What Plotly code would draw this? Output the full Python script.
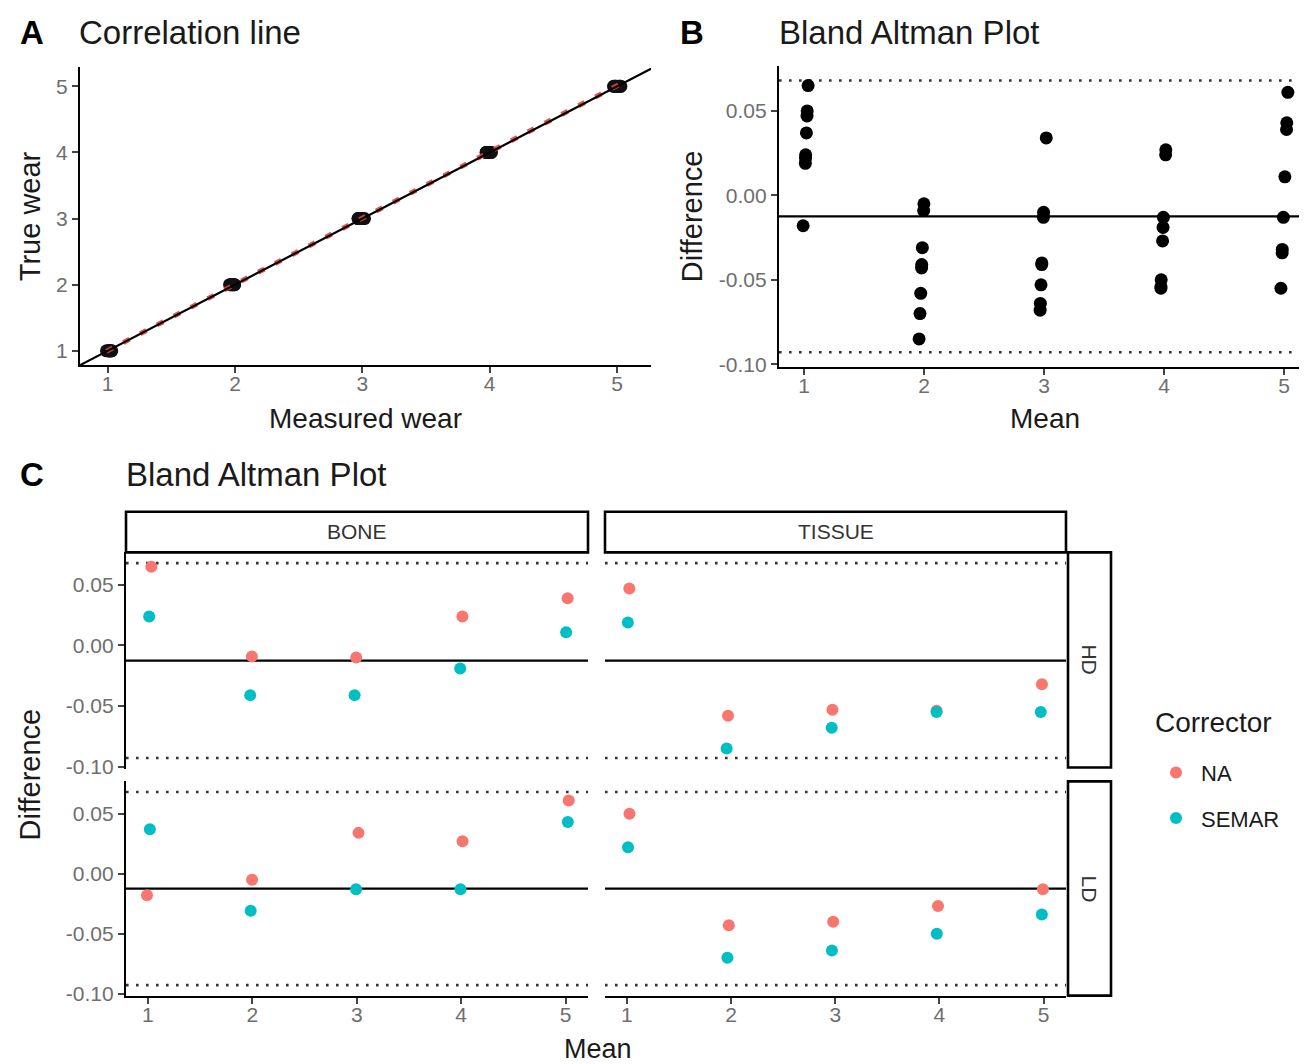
import numpy as np
import plotly.graph_objects as go

W, H = 1307, 1064
FONT = "Liberation Sans, Arial, Helvetica, sans-serif"

# ---------------- data ----------------
true_wear = [1, 2, 3, 4, 5]
# Difference (measured - true) per facet and corrector, at true wear 1..5
bone_hd_na = [0.065, -0.009, -0.010, 0.024, 0.039]
bone_hd_semar = [0.024, -0.041, -0.041, -0.019, 0.011]
tissue_hd_na = [0.047, -0.058, -0.053, -0.054, -0.032]
tissue_hd_semar = [0.019, -0.085, -0.068, -0.055, -0.055]
bone_ld_na = [-0.018, -0.005, 0.034, 0.027, 0.061]
bone_ld_semar = [0.037, -0.031, -0.013, -0.013, 0.043]
tissue_ld_na = [0.050, -0.043, -0.040, -0.027, -0.013]
tissue_ld_semar = [0.022, -0.070, -0.064, -0.050, -0.034]

diff_ticks = [-0.10, -0.05, 0.00, 0.05]
diff_ticktext = ["-0.10", "-0.05", "0.00", "0.05"]
wear_ticks = [1, 2, 3, 4, 5]

NA_COL = "#F8766D"
SEMAR_COL = "#00BFC4"

facets = {
    # name: (xaxis, yaxis, na, semar)
    "BONE_HD": ("x3", "y3", bone_hd_na, bone_hd_semar),
    "TISSUE_HD": ("x4", "y4", tissue_hd_na, tissue_hd_semar),
    "BONE_LD": ("x5", "y5", bone_ld_na, bone_ld_semar),
    "TISSUE_LD": ("x6", "y6", tissue_ld_na, tissue_ld_semar),
}

tw = np.array(true_wear, dtype=float)
all_diff = []
all_mean = []
all_true = []
for key, (_, _, na, se) in facets.items():
    for arr in (na, se):
        d = np.array(arr)
        all_diff.extend(d.tolist())
        all_mean.extend((tw + d / 2).tolist())
        all_true.extend(tw.tolist())
all_diff = np.array(all_diff)
all_mean = np.array(all_mean)
all_true = np.array(all_true)

bias = all_diff.mean()
sd = all_diff.std(ddof=1)
loa_hi = bias + 1.96 * sd
loa_lo = bias - 1.96 * sd


def fx(px):
    return px / W


def fy(py):
    return 1 - py / H


fig = go.Figure()

# ---------------- Panel A ----------------
fig.add_trace(go.Scatter(x=all_mean, y=all_true, mode="markers",
                         marker=dict(color="#111", size=13),
                         xaxis="x", yaxis="y", showlegend=False))
coef = np.polyfit(all_mean, all_true, 1)
xr = np.array([all_mean.min(), all_mean.max()])
fig.add_trace(go.Scatter(x=xr, y=np.polyval(coef, xr), mode="lines",
                         line=dict(color="#E0453C", width=5, dash="7px,12px"),
                         opacity=0.9,
                         xaxis="x", yaxis="y", showlegend=False))
AX_RANGE_X = [0.783, 5.267]
AY_RANGE = [0.786, 5.285]
fig.add_trace(go.Scatter(x=[0.7, 5.4], y=[0.7, 5.4], mode="lines",
                         line=dict(color="black", width=2.2),
                         xaxis="x", yaxis="y", showlegend=False))

# ---------------- Panel B ----------------
fig.add_trace(go.Scatter(x=all_mean, y=all_diff, mode="markers",
                         marker=dict(color="black", size=13),
                         xaxis="x2", yaxis="y2", showlegend=False))

# ---------------- Panel C ----------------
for key, (xa, ya, na, se) in facets.items():
    first = key == "BONE_HD"
    fig.add_trace(go.Scatter(x=tw + np.array(na) / 2, y=na, mode="markers",
                             marker=dict(color=NA_COL, size=12),
                             xaxis=xa, yaxis=ya, name="NA", legendgroup="NA",
                             showlegend=first))
    fig.add_trace(go.Scatter(x=tw + np.array(se) / 2, y=se, mode="markers",
                             marker=dict(color=SEMAR_COL, size=12),
                             xaxis=xa, yaxis=ya, name="SEMAR", legendgroup="SEMAR",
                             showlegend=first))

# reference lines for B and C
shapes = []
for xa, ya in [("x2", "y2"), ("x3", "y3"), ("x4", "y4"), ("x5", "y5"), ("x6", "y6")]:
    shapes.append(dict(type="line", xref=f"{xa} domain", yref=ya, x0=0, x1=1,
                       y0=bias, y1=bias, line=dict(color="black", width=2.2), layer="below"))
    for v in (loa_hi, loa_lo):
        shapes.append(dict(type="line", xref=f"{xa} domain", yref=ya, x0=0, x1=1,
                           y0=v, y1=v, line=dict(color="#333", width=2.6, dash="2.6px,7.4px"),
                           layer="below"))

# strips
strip_line = dict(color="black", width=2.6)
for (x0, x1, y0, y1) in [(118, 580, 508, 549), (597, 1058, 508, 549),
                         (1060, 1103, 549, 766), (1060, 1103, 780, 996)]:
    shapes.append(dict(type="rect", xref="paper", yref="paper",
                       x0=fx(x0), x1=fx(x1), y0=fy(y1), y1=fy(y0),
                       line=strip_line, fillcolor="white"))

annotations = []


def ann(text, x, y, size, color="#1a1a1a", angle=0, xanchor="center", bold=False):
    annotations.append(dict(text=f"<b>{text}</b>" if bold else text,
                            x=fx(x), y=fy(y), xref="paper", yref="paper",
                            showarrow=False, textangle=angle, xanchor=xanchor,
                            yanchor="middle", font=dict(family=FONT, size=size, color=color)))


# titles
ann("A", 10, 25, 33, "black", xanchor="left", bold=True)
ann("Correlation line", 69, 25, 33, xanchor="left")
ann("B", 670, 25, 33, "black", xanchor="left", bold=True)
ann("Bland Altman Plot", 769, 25, 33, xanchor="left")
ann("C", 10, 470, 33, "black", xanchor="left", bold=True)
ann("Bland Altman Plot", 116, 470, 33, xanchor="left")
# axis titles
ann("True wear", 22, 210, 29, angle=-90)
ann("Measured wear", 357, 414, 28)
ann("Difference", 684, 210, 29, angle=-90)
ann("Mean", 1037, 414, 28)
ann("Difference", 22, 773, 29, angle=-90)
ann("Mean", 590, 1050, 27)
# strip labels
ann("BONE", 349, 528, 21, "#333")
ann("TISSUE", 828, 528, 21, "#333")
ann("HD", 1082, 657, 21, "#333", angle=90)
ann("LD", 1082, 888, 21, "#333", angle=90)
# legend title
ann("Corrector", 1145, 721, 28, xanchor="left")

tickfont = dict(family=FONT, size=21, color="#6e6e6e")


def axis(domain, rng, show=True, line=True, tickvals=None, ticktext=None, anchor=None,
         standoff=0):
    d = dict(domain=domain, range=rng, showgrid=False, zeroline=False,
             showline=line, linecolor="black", linewidth=2.4,
             ticks="outside" if show else "", ticklen=6, tickwidth=2, tickcolor="#444",
             showticklabels=show, tickfont=tickfont, tickvals=tickvals, fixedrange=True,
             ticklabelstandoff=standoff)
    if ticktext is not None:
        d["ticktext"] = ticktext
    if anchor:
        d["anchor"] = anchor
    return d


DIFF_RANGE = [-0.1016, 0.0769]
CX_RANGE = [0.79, 5.215]
XSO = -7

layout = dict(
    width=W, height=H, margin=dict(l=0, r=0, t=0, b=0),
    paper_bgcolor="white", plot_bgcolor="rgba(0,0,0,0)",
    font=dict(family=FONT),
    shapes=shapes, annotations=annotations,
    xaxis=axis([fx(72), fx(643)], AX_RANGE_X, tickvals=wear_ticks, anchor="y", standoff=XSO),
    yaxis=axis([fy(360), fy(60)], AY_RANGE, tickvals=wear_ticks, anchor="x"),
    xaxis2=axis([fx(771), fx(1305)], [0.79, 5.24], tickvals=wear_ticks, anchor="y2", standoff=XSO),
    yaxis2=axis([fy(362), fy(58)], DIFF_RANGE, tickvals=diff_ticks, ticktext=diff_ticktext, anchor="x2"),
    xaxis3=axis([fx(118), fx(580)], CX_RANGE, show=False, line=False, anchor="y3"),
    yaxis3=axis([fy(767), fy(549)], DIFF_RANGE, tickvals=diff_ticks, ticktext=diff_ticktext, anchor="x3"),
    xaxis4=axis([fx(597), fx(1058)], CX_RANGE, show=False, line=False, anchor="y4"),
    yaxis4=axis([fy(767), fy(549)], DIFF_RANGE, show=False, line=False, anchor="x4"),
    xaxis5=axis([fx(118), fx(580)], CX_RANGE, tickvals=wear_ticks, anchor="y5", standoff=XSO),
    yaxis5=axis([fy(996), fy(780)], DIFF_RANGE, tickvals=diff_ticks, ticktext=diff_ticktext, anchor="x5"),
    xaxis6=axis([fx(597), fx(1058)], CX_RANGE, tickvals=wear_ticks, anchor="y6", standoff=XSO),
    yaxis6=axis([fy(996), fy(780)], DIFF_RANGE, show=False, line=False, anchor="x6"),
    legend=dict(x=fx(1143), y=fy(750), xanchor="left", yanchor="top",
                font=dict(family=FONT, size=22, color="#1a1a1a"),
                tracegroupgap=14, itemwidth=40, bgcolor="rgba(0,0,0,0)"),
    showlegend=True,
)
fig.update_layout(**layout)

fig.write_html("out.html")
